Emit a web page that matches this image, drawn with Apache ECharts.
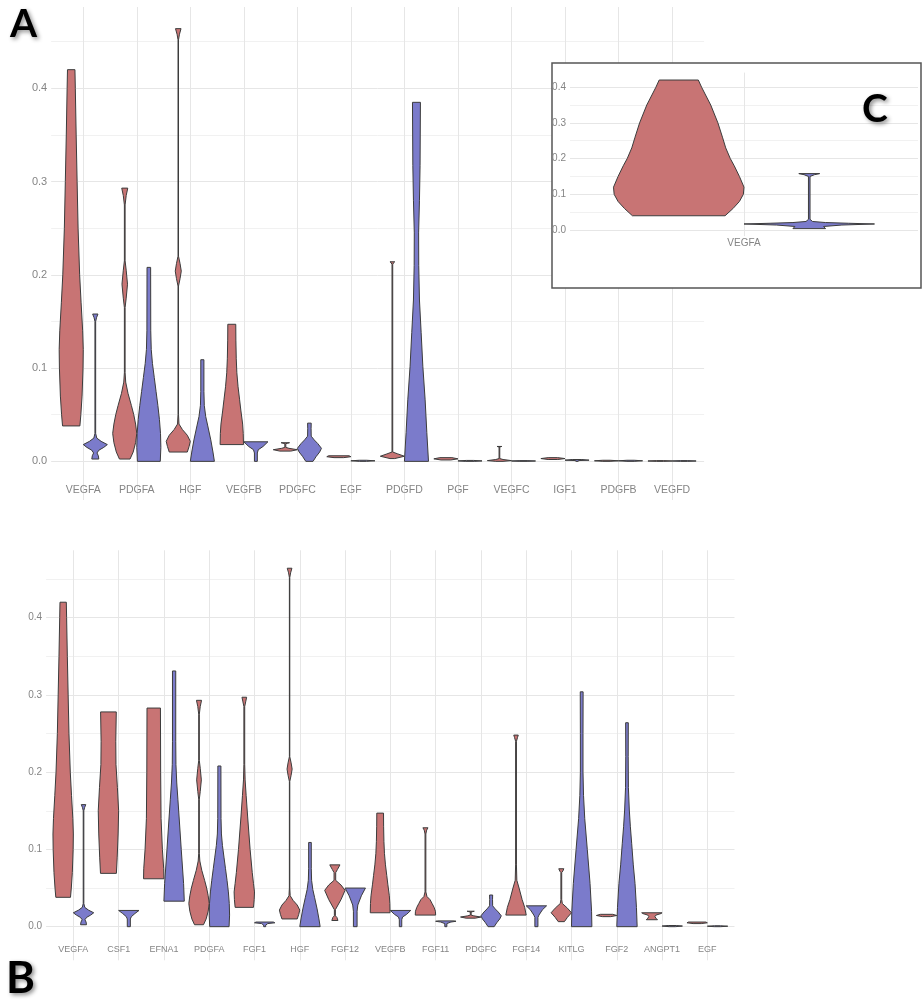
<!DOCTYPE html>
<html>
<head>
<meta charset="utf-8">
<script src="https://cdn.jsdelivr.net/npm/echarts@6/dist/echarts.min.js"></script>
<style>
  html, body { margin: 0; padding: 0; background: #fff; }
  #chart { width: 922px; height: 1000px; }
</style>
</head>
<body>
<div id="chart"></div>
<script>
// categories of each panel
const genesA = ['VEGFA', 'PDGFA', 'HGF', 'VEGFB', 'PDGFC', 'EGF', 'PDGFD', 'PGF', 'VEGFC', 'IGF1', 'PDGFB', 'VEGFD'];
const genesB = ['VEGFA', 'CSF1', 'EFNA1', 'PDGFA', 'FGF1', 'HGF', 'FGF12', 'VEGFB', 'FGF11', 'PDGFC', 'FGF14', 'KITLG', 'FGF2', 'ANGPT1', 'EGF'];
const genesC = ['VEGFA'];
const yTickLabels = [0, 0.1, 0.2, 0.3, 0.4];

// violin outlines, bottom to top: [expression value, relative width (1 = widest)]
const redShapes = {
  VEGFA: [[0.038, 0.72], [0.05, 0.8], [0.07, 0.9], [0.1, 0.98], [0.12, 1.0], [0.14, 0.95], [0.17, 0.82], [0.2, 0.7], [0.25, 0.57], [0.3, 0.49], [0.35, 0.41], [0.4, 0.34], [0.42, 0.31]],
  PDGFA: [[0.0025, 0.44], [0.01, 0.7], [0.02, 0.9], [0.03, 1.0], [0.04, 0.9], [0.05, 0.75], [0.06, 0.55], [0.073, 0.27], [0.085, 0.08], [0.095, 0.03], [0.165, 0.03], [0.175, 0.12], [0.19, 0.23], [0.205, 0.12], [0.215, 0.03], [0.275, 0.03], [0.285, 0.12], [0.293, 0.25]],
  HGF: [[0.01, 0.75], [0.016, 0.9], [0.0215, 1.0], [0.028, 0.75], [0.034, 0.35], [0.04, 0.06], [0.05, 0.02], [0.188, 0.02], [0.196, 0.15], [0.204, 0.25], [0.212, 0.15], [0.22, 0.02], [0.452, 0.02], [0.458, 0.1], [0.464, 0.23]],
  VEGFB: [[0.018, 0.97], [0.03, 0.95], [0.04, 0.9], [0.055, 0.75], [0.066, 0.65], [0.08, 0.52], [0.095, 0.42], [0.11, 0.37], [0.13, 0.34], [0.147, 0.33]],
  PDGFC: [[0.011, 0.45], [0.0125, 1.0], [0.014, 0.3], [0.015, 0.04], [0.019, 0.04], [0.0195, 0.2], [0.02, 0.35]],
  EGF: [[0.004, 0.4], [0.005, 1.0], [0.006, 0.85]],
  PDGFD: [[0.003, 0.2], [0.0055, 1.0], [0.008, 0.45], [0.01, 0.03], [0.211, 0.03], [0.213, 0.1], [0.214, 0.2]],
  PGF: [[0.0015, 0.4], [0.0027, 1.0], [0.004, 0.5]],
  VEGFC: [[0, 0.3], [0.0008, 1.0], [0.002, 0.3], [0.003, 0.03], [0.0155, 0.03], [0.016, 0.2]],
  IGF1: [[0.002, 0.4], [0.003, 1.0], [0.004, 0.4]],
  PDGFB: [[0, 0.3], [0.0006, 1.0], [0.0012, 0.3]],
  VEGFD: [[0, 0.3], [0.0004, 1.0], [0.0008, 0.3]],
  CSF1: [[0.069, 0.78], [0.09, 0.86], [0.12, 0.95], [0.15, 1.0], [0.18, 0.88], [0.21, 0.74], [0.24, 0.72], [0.278, 0.77]],
  EFNA1: [[0.062, 1.0], [0.075, 0.98], [0.1, 0.85], [0.14, 0.72], [0.2, 0.68], [0.283, 0.66]],
  FGF1: [[0.025, 0.9], [0.035, 0.97], [0.045, 1.0], [0.056, 0.9], [0.07, 0.78], [0.1, 0.57], [0.142, 0.33], [0.17, 0.18], [0.19, 0.08], [0.21, 0.04], [0.285, 0.04], [0.292, 0.15], [0.297, 0.23]],
  FGF12: [[0.008, 0.3], [0.012, 0.2], [0.014, 0.05], [0.022, 0.05], [0.035, 0.6], [0.047, 1.0], [0.054, 0.6], [0.06, 0.08], [0.07, 0.08], [0.074, 0.25], [0.08, 0.5]],
  FGF11: [[0.015, 1.0], [0.02, 0.98], [0.025, 0.85], [0.03, 0.65], [0.035, 0.45], [0.039, 0.15], [0.045, 0.04], [0.12, 0.04], [0.125, 0.12], [0.128, 0.25]],
  FGF14: [[0.015, 1.0], [0.025, 0.85], [0.035, 0.6], [0.05, 0.3], [0.06, 0.08], [0.08, 0.04], [0.24, 0.04], [0.245, 0.15], [0.248, 0.22]],
  KITLG: [[0.0065, 0.3], [0.012, 0.6], [0.018, 1.0], [0.024, 0.6], [0.03, 0.1], [0.035, 0.04], [0.07, 0.04], [0.072, 0.15], [0.075, 0.25]],
  FGF2: [[0.013, 0.4], [0.0145, 1.0], [0.016, 0.6]],
  ANGPT1: [[0.009, 0.55], [0.011, 0.4], [0.013, 0.3], [0.015, 0.4], [0.017, 0.9], [0.018, 1.0]]
};

const blueShapes = {
  VEGFA: [[0.0025, 0.29], [0.006, 0.25], [0.009, 0.14], [0.012, 0.3], [0.015, 0.7], [0.018, 1.0], [0.0215, 0.48], [0.025, 0.12], [0.03, 0.03], [0.15, 0.03], [0.154, 0.1], [0.158, 0.22]],
  PDGFA: [[0, 0.95], [0.015, 1.0], [0.03, 0.97], [0.045, 0.88], [0.06, 0.75], [0.075, 0.6], [0.09, 0.45], [0.105, 0.3], [0.12, 0.2], [0.14, 0.16], [0.208, 0.15]],
  HGF: [[0, 1.0], [0.01, 0.88], [0.023, 0.7], [0.038, 0.45], [0.048, 0.28], [0.06, 0.16], [0.075, 0.13], [0.109, 0.13]],
  VEGFB: [[0, 0.12], [0.009, 0.12], [0.0125, 0.2], [0.016, 0.6], [0.021, 1.0]],
  PDGFC: [[0, 0.3], [0.005, 0.55], [0.01, 0.85], [0.014, 1.0], [0.019, 0.7], [0.023, 0.4], [0.027, 0.15], [0.035, 0.14], [0.041, 0.15]],
  EGF: [[0, 0.3], [0.0006, 1.0], [0.0012, 0.3]],
  PDGFD: [[0, 1.0], [0.031, 0.86], [0.066, 0.72], [0.102, 0.53], [0.138, 0.39], [0.173, 0.25], [0.21, 0.19], [0.245, 0.18], [0.28, 0.25], [0.317, 0.3], [0.385, 0.33]],
  PGF: [[0, 0.4], [0.0005, 1.0], [0.001, 0.3]],
  VEGFC: [[0, 0.3], [0.0004, 1.0], [0.0008, 0.3]],
  IGF1: [[0, 0.1], [0.0008, 0.1], [0.0013, 1.0], [0.002, 0.4]],
  PDGFB: [[0, 0.3], [0.0006, 1.0], [0.0012, 0.3]],
  VEGFD: [[0, 0.3], [0.0004, 1.0], [0.0008, 0.3]],
  CSF1: [[0, 0.15], [0.01, 0.15], [0.013, 0.25], [0.017, 0.6], [0.021, 1.0]],
  EFNA1: [[0.033, 1.0], [0.056, 0.93], [0.1, 0.7], [0.142, 0.49], [0.165, 0.37], [0.186, 0.26], [0.21, 0.18], [0.24, 0.16], [0.331, 0.16]],
  FGF1: [[0, 0.1], [0.002, 0.1], [0.004, 0.3], [0.005, 1.0], [0.006, 0.85]],
  FGF12: [[0, 0.18], [0.02, 0.18], [0.028, 0.25], [0.04, 0.6], [0.05, 1.0]],
  FGF11: [[0, 0.1], [0.004, 0.1], [0.006, 0.5], [0.007, 1.0], [0.0075, 0.8]],
  FGF14: [[0, 0.15], [0.012, 0.15], [0.015, 0.25], [0.022, 0.6], [0.027, 1.0]],
  KITLG: [[0, 1.0], [0.02, 0.97], [0.056, 0.82], [0.1, 0.55], [0.14, 0.3], [0.17, 0.18], [0.2, 0.13], [0.25, 0.13], [0.304, 0.14]],
  FGF2: [[0, 1.0], [0.025, 0.93], [0.056, 0.79], [0.08, 0.62], [0.108, 0.46], [0.13, 0.33], [0.151, 0.23], [0.18, 0.14], [0.22, 0.12], [0.264, 0.13]],
  ANGPT1: [[0, 0.3], [0.0008, 1.0], [0.0015, 0.4]]
};

// inset C (same gene, drawn on its own scale)
const redInset = { VEGFA: [[0.04, 0.71], [0.06, 0.83], [0.08, 0.93], [0.1, 0.99], [0.12, 1.0], [0.15, 0.93], [0.18, 0.85], [0.2, 0.79], [0.23, 0.72], [0.26, 0.67], [0.3, 0.6], [0.35, 0.49], [0.4, 0.35], [0.42, 0.3]] };
const blueInset = { VEGFA: [[0.004, 0.25], [0.01, 0.22], [0.014, 0.5], [0.017, 1.0], [0.019, 0.6], [0.021, 0.25], [0.024, 0.05], [0.03, 0.012], [0.15, 0.012], [0.155, 0.08], [0.158, 0.16]] };

const redFill = '#c87474';
const blueFill = '#7b7bcb';
const outline = '#3c3c3c';
const labelColor = '#858585';
const majorGrid = '#e6e6e6';
const minorGrid = '#f1f1f1';

const chart = echarts.init(document.getElementById('chart'));

// colours for the horizontal grid lines, one per tick from min (hidden below 0)
const gridColors = (min, max) => {
    const cols = [];
    for (let i = 0; min + i * 0.05 <= max + 1e-9; i++) {
        const v = min + i * 0.05;
        if (v < -1e-9) cols.push('rgba(0,0,0,0)');
        else cols.push(Math.round(v * 100) % 10 === 0 ? majorGrid : minorGrid);
    }
    cols.push('rgba(0,0,0,0)');
    return cols;
};

const tickFormatter = (v) => {
    const hit = yTickLabels.find(t => Math.abs(t - v) < 1e-6);
    return hit === undefined ? '' : hit.toFixed(1);
};

const violinRenderer = (genes, reds, blues) => (params, api) => {
    const cat = api.value(0);
    const grp = api.value(1);
    const shape = (grp ? blues : reds)[genes[cat]];
    const band = api.size([1, 0])[0];
    const cx = api.coord([cat, 0])[0] + (grp ? 1 : -1) * band * 0.225;
    const half = band * 0.45 / 2;
    const right = [], left = [];
    shape.forEach(([v, w]) => {
        const y = api.coord([cat, v])[1];
        right.push([cx + w * half, y]);
        left.unshift([cx - w * half, y]);
    });
    return {
        type: 'polygon',
        shape: { points: right.concat(left) },
        style: { fill: grp ? blueFill : redFill, stroke: outline, lineWidth: 1, lineJoin: 'round' }
    };
};

const panelData = genes => genes.flatMap((g, i) => [[i, 0], [i, 1]]);

const backY = (gridIndex, min, max, fontSize, margin, z) => ({
    gridIndex, type: 'value', min, max, interval: 0.05, z,
    axisLine: { show: false }, axisTick: { show: false },
    axisLabel: { color: labelColor, fontSize, fontFamily: 'Liberation Sans', margin, formatter: tickFormatter, showMinLabel: false, showMaxLabel: false },
    splitLine: { show: true, lineStyle: { color: gridColors(min, max), width: 1 } }
});
const frontY = (gridIndex, min, max, z) => ({
    gridIndex, type: 'value', min, max, interval: 0.05, z, show: false, splitLine: { show: false }
});
const backX = (gridIndex) => ({ gridIndex, type: 'value', min: 0, max: 1, show: false, splitLine: { show: false } });
// category labels under the panel
const labelX = (gridIndex, genes, offset, fontSize, z) => ({
    gridIndex, type: 'category', data: genes, position: 'bottom', offset, z,
    axisLine: { show: false, onZero: false }, axisTick: { show: false },
    axisLabel: { color: labelColor, fontSize, fontFamily: 'Liberation Sans', margin: 2, interval: 0 },
    splitLine: { show: false }
});
// vertical grid lines through the category centres, hanging from the panel top
const lineX = (gridIndex, genes, tickLen, z) => ({
    gridIndex, type: 'category', data: genes, position: 'top', z,
    axisLine: { show: false, onZero: false },
    axisTick: { show: true, inside: true, alignWithLabel: true, interval: 0, length: tickLen, lineStyle: { color: majorGrid, width: 1 } },
    axisLabel: { show: false },
    splitLine: { show: false }
});

const option = {
    backgroundColor: '#fff',
    animation: false,
    grid: [
        { left: 51.2, top: 7, width: 652.9, height: 501 },
        { left: 56.5, top: 7, width: 642.3, height: 501 },
        { left: 46.1, top: 550.3, width: 688.4, height: 415 },
        { left: 50.7, top: 550.3, width: 679.3, height: 415 },
        { left: 570, top: 72.6, width: 348, height: 175.3, z: 6 },
        { left: 599, top: 72.6, width: 290, height: 175.3, z: 6 }
    ],
    xAxis: [
        backX(0),
        labelX(1, genesA, -25.6, 10.5, 0),
        lineX(1, genesA, 493, 0),
        backX(2),
        labelX(3, genesB, -21.8, 9, 0),
        lineX(3, genesB, 410, 0),
        backX(4),
        labelX(5, genesC, -11.9, 10, 6),
        lineX(5, genesC, 163.5, 6)
    ],
    yAxis: [
        backY(0, -0.05, 0.4872, 11, 4, 0),
        frontY(1, -0.05, 0.4872, 0),
        backY(2, -0.05, 0.4872, 10, 4, 0),
        frontY(3, -0.05, 0.4872, 0),
        backY(4, -0.05, 0.4408, 10, 4, 6),
        frontY(5, -0.05, 0.4408, 6)
    ],
    graphic: [
        { type: 'rect', z: 5, shape: { x: 552, y: 63, width: 369, height: 225 }, style: { fill: '#fff', stroke: '#555', lineWidth: 1.5 } },
        { type: 'text', z: 20, x: 10, y: 24, style: { text: 'A', font: 'bold 39px Lato', fill: '#000', textVerticalAlign: 'middle', textShadowColor: 'rgba(0,0,0,0.45)', textShadowBlur: 4, textShadowOffsetX: 2, textShadowOffsetY: 2 } },
        { type: 'text', z: 20, x: 6, y: 979, style: { text: 'B', font: 'bold 44px Lato', fill: '#000', textVerticalAlign: 'middle', textShadowColor: 'rgba(0,0,0,0.45)', textShadowBlur: 4, textShadowOffsetX: 2, textShadowOffsetY: 2 } },
        { type: 'text', z: 20, x: 862, y: 109, style: { text: 'C', font: 'bold 39px Lato', fill: '#000', textVerticalAlign: 'middle', textShadowColor: 'rgba(0,0,0,0.45)', textShadowBlur: 4, textShadowOffsetX: 2, textShadowOffsetY: 2 } }
    ],
    series: [
        { type: 'custom', xAxisIndex: 1, yAxisIndex: 1, z: 2, silent: true, renderItem: violinRenderer(genesA, redShapes, blueShapes), data: panelData(genesA) },
        { type: 'custom', xAxisIndex: 4, yAxisIndex: 3, z: 2, silent: true, renderItem: violinRenderer(genesB, redShapes, blueShapes), data: panelData(genesB) },
        { type: 'custom', xAxisIndex: 7, yAxisIndex: 5, z: 8, silent: true, renderItem: violinRenderer(genesC, redInset, blueInset), data: panelData(genesC) }
    ]
};

chart.setOption(option);
window.addEventListener('resize', () => chart.resize());
</script>
</body>
</html>
